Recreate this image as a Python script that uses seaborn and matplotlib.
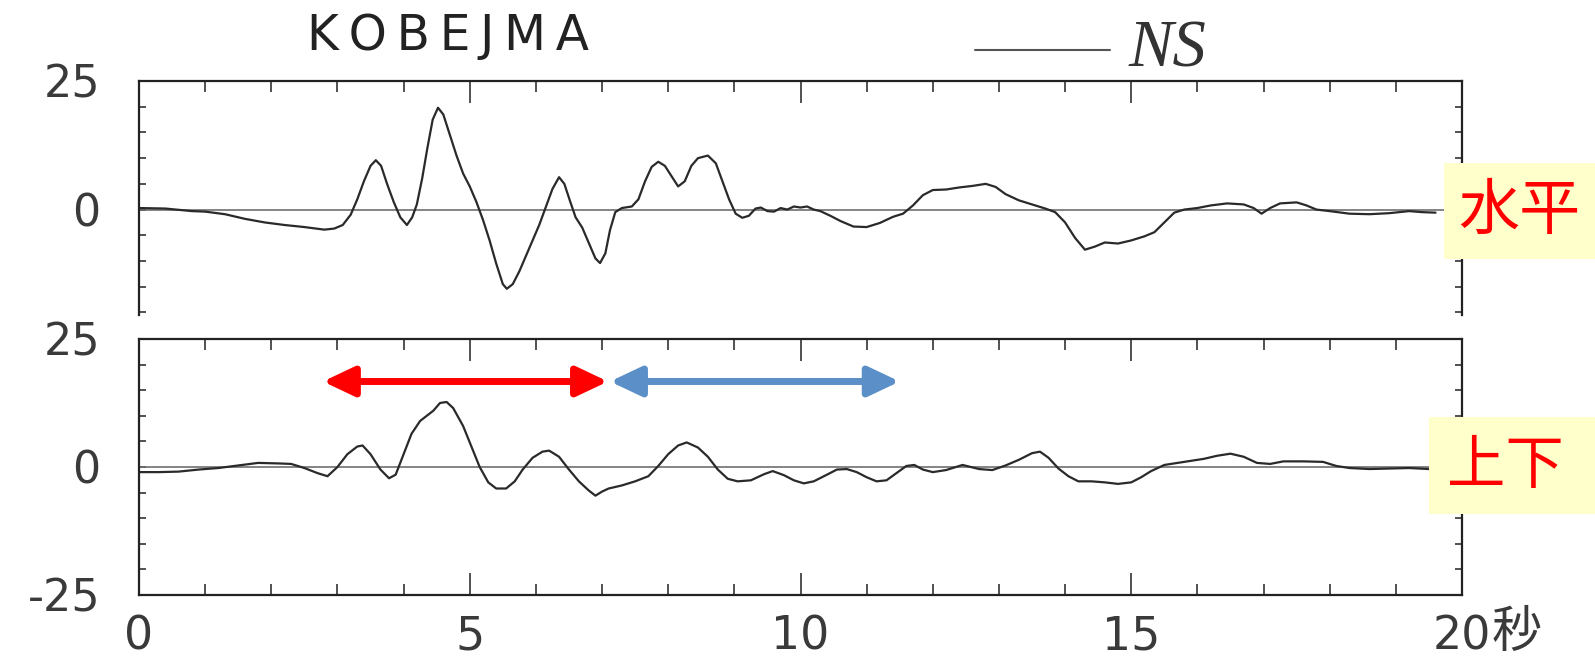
import matplotlib
matplotlib.use("Agg")
import matplotlib.pyplot as plt
from matplotlib.ticker import MultipleLocator, FixedLocator
from matplotlib.patches import Rectangle
import seaborn as sns
import pandas as pd

# ---- data ----
h_time = [0.0, 0.4, 0.8, 1.0, 1.3, 1.6, 1.9, 2.2, 2.5, 2.8, 2.95, 3.08, 3.2, 3.3, 3.4, 3.5,
          3.58, 3.66, 3.75, 3.85, 3.95, 4.05, 4.13, 4.2, 4.28, 4.36, 4.44, 4.52, 4.6, 4.7,
          4.8, 4.9, 5.0, 5.1, 5.2, 5.3, 5.4, 5.5, 5.56, 5.65, 5.75, 5.9, 6.05, 6.15, 6.25,
          6.35, 6.43, 6.52, 6.6, 6.7, 6.8, 6.9, 6.97, 7.05, 7.12, 7.2, 7.3, 7.45, 7.55, 7.65,
          7.75, 7.85, 7.95, 8.05, 8.15, 8.25, 8.35, 8.45, 8.6, 8.72, 8.82, 8.92, 9.02, 9.12,
          9.22, 9.32, 9.4, 9.5, 9.6, 9.7, 9.8, 9.9, 10.0, 10.1, 10.2, 10.3, 10.45, 10.6, 10.8,
          11.0, 11.2, 11.4, 11.55, 11.7, 11.85, 12.0, 12.2, 12.4, 12.6, 12.8, 12.95, 13.1,
          13.3, 13.5, 13.7, 13.85, 14.0, 14.15, 14.3, 14.45, 14.6, 14.8, 15.0, 15.2, 15.35,
          15.5, 15.65, 15.8, 16.0, 16.2, 16.45, 16.7, 16.85, 16.97, 17.1, 17.25, 17.5, 17.65,
          17.8, 18.0, 18.3, 18.6, 18.9, 19.2, 19.4, 19.6]
h_value = [0.3, 0.2, -0.3, -0.4, -0.9, -1.8, -2.5, -3.0, -3.4, -3.9, -3.7, -3.0, -1.0, 2.0,
           5.5, 8.5, 9.6, 8.5, 5.0, 1.5, -1.5, -3.0, -1.5, 1.0, 6.0, 12.0, 17.5, 19.8, 18.5,
           14.5, 10.5, 7.0, 4.5, 1.5, -2.0, -6.0, -10.5, -14.5, -15.4, -14.5, -12.0, -7.5,
           -3.0, 0.5, 4.0, 6.3, 5.0, 1.5, -1.5, -3.5, -6.5, -9.5, -10.4, -8.5, -4.0, -0.5,
           0.3, 0.6, 2.0, 5.5, 8.3, 9.3, 8.5, 6.5, 4.5, 5.5, 8.5, 10.0, 10.5, 9.0, 5.5, 2.0,
           -0.8, -1.6, -1.2, 0.2, 0.4, -0.3, -0.4, 0.3, 0.0, 0.6, 0.4, 0.6, 0.0, -0.3, -1.2,
           -2.2, -3.3, -3.4, -2.6, -1.4, -0.8, 0.8, 2.8, 3.8, 3.9, 4.3, 4.6, 5.0, 4.4, 3.0,
           1.8, 1.0, 0.2, -0.5, -2.5, -5.5, -7.8, -7.2, -6.4, -6.6, -6.0, -5.2, -4.4, -2.5,
           -0.6, 0.0, 0.3, 0.8, 1.2, 1.0, 0.3, -0.8, 0.3, 1.2, 1.4, 0.8, 0.0, -0.3, -0.8,
           -0.9, -0.7, -0.3, -0.5, -0.6]

v_time = [0.0, 0.3, 0.6, 0.9, 1.2, 1.5, 1.8, 2.1, 2.3, 2.5, 2.7, 2.85, 3.0, 3.15, 3.3, 3.38,
          3.5, 3.65, 3.78, 3.88, 4.0, 4.12, 4.25, 4.35, 4.45, 4.55, 4.65, 4.75, 4.9, 5.05,
          5.15, 5.28, 5.4, 5.55, 5.68, 5.8, 5.95, 6.1, 6.2, 6.35, 6.5, 6.65, 6.8, 6.9, 7.0,
          7.1, 7.3, 7.5, 7.7, 7.85, 8.0, 8.15, 8.28, 8.45, 8.6, 8.75, 8.9, 9.05, 9.25, 9.45,
          9.58, 9.75, 9.9, 10.05, 10.2, 10.4, 10.55, 10.7, 10.85, 11.0, 11.15, 11.3, 11.45,
          11.6, 11.72, 11.85, 12.0, 12.2, 12.45, 12.7, 12.9, 13.1, 13.3, 13.5, 13.62, 13.75,
          13.9, 14.05, 14.2, 14.4, 14.6, 14.8, 15.0, 15.15, 15.3, 15.5, 15.7, 15.9, 16.1, 16.3,
          16.5, 16.7, 16.9, 17.1, 17.3, 17.6, 17.9, 18.1, 18.3, 18.6, 18.9, 19.2, 19.5, 19.7]
v_value = [-1.0, -1.0, -0.9, -0.5, -0.2, 0.3, 0.8, 0.7, 0.6, -0.2, -1.2, -1.8, 0.0, 2.5, 4.0,
           4.2, 2.5, -0.5, -2.2, -1.5, 2.5, 6.5, 9.0, 10.0, 11.0, 12.5, 12.7, 11.5, 8.0, 3.2,
           0.0, -3.0, -4.2, -4.2, -2.8, -0.5, 1.8, 3.0, 3.2, 2.0, -0.5, -2.8, -4.6, -5.6, -4.8,
           -4.2, -3.6, -2.8, -1.8, 0.2, 2.5, 4.2, 4.8, 3.8, 2.0, -0.5, -2.3, -2.8, -2.6, -1.4,
           -0.8, -1.6, -2.6, -3.2, -2.8, -1.5, -0.5, -0.4, -1.0, -2.0, -2.8, -2.6, -1.2, 0.2,
           0.4, -0.5, -1.0, -0.6, 0.4, -0.4, -0.6, 0.3, 1.4, 2.7, 3.0, 1.8, -0.3, -1.8, -2.8,
           -2.8, -3.0, -3.3, -3.0, -2.0, -0.8, 0.4, 0.8, 1.2, 1.6, 2.2, 2.6, 2.0, 0.8, 0.6,
           1.1, 1.1, 1.0, 0.2, -0.2, -0.4, -0.3, -0.2, -0.4, -0.2]

x_ticks = [0, 5, 10, 15, 20]
x_tick_labels = ["0", "5", "10", "15", "20"]
top_y_labels = [0, 25]
bottom_y_labels = [-25, 0, 25]
red_span = (2.78, 7.09)
blue_span = (7.12, 11.5)
arrow_level = 16.7

# ---- style ----
sns.set_style("white")
plt.rcParams['font.family'] = ['DejaVu Sans', 'Noto Sans CJK JP']

W, H = 1595, 662
fig = plt.figure(figsize=(W / 100, H / 100), dpi=100)
L, R = 139 / W, 1462 / W
ax1 = fig.add_axes([L, 1 - 315 / H, R - L, (315 - 81) / H])
ax2 = fig.add_axes([L, 1 - 595 / H, R - L, (595 - 339) / H])

df_h = pd.DataFrame({"t": h_time, "v": h_value})
df_v = pd.DataFrame({"t": v_time, "v": v_value})

label_color = "#3a3a3a"
trace_color = "#2a2a2a"
for ax, df in ((ax1, df_h), (ax2, df_v)):
    ax.axhline(0, color="#6f6f6f", lw=1.2, zorder=1)
    sns.lineplot(data=df, x="t", y="v", ax=ax, color=trace_color, lw=1.6,
                 estimator=None, sort=True, zorder=2)
    ax.set_xlim(0, 20)
    ax.set_xlabel("")
    ax.set_ylabel("")
    ax.xaxis.set_major_locator(FixedLocator(x_ticks))
    ax.xaxis.set_minor_locator(MultipleLocator(1))
    ax.yaxis.set_minor_locator(MultipleLocator(5))
    ax.tick_params(axis="x", which="major", direction="in", length=16, width=1.2,
                   top=True, bottom=True, color="#333333")
    ax.tick_params(axis="x", which="minor", direction="in", length=8, width=1.2,
                   top=True, bottom=True, color="#333333")
    ax.tick_params(axis="y", which="both", direction="in", length=5, width=1.2,
                   left=True, right=True, color="#333333")
    ax.tick_params(axis="y", which="major", labelsize=32, pad=28, labelcolor=label_color)
    for sp in ax.spines.values():
        sp.set_color("#222222")
        sp.set_linewidth(1.6)

ax1.set_ylim(-20.5, 25)
ax1.set_yticks(top_y_labels)
ax1.set_yticklabels([str(v) for v in top_y_labels])
ax1.spines["bottom"].set_visible(False)
ax1.tick_params(axis="x", which="both", bottom=False, labelbottom=False)

ax2.set_ylim(-25, 25)
ax2.set_yticks(bottom_y_labels)
ax2.set_yticklabels([str(v) for v in bottom_y_labels])
ax2.set_xticklabels(x_tick_labels)
ax2.tick_params(axis="x", which="major", labelsize=33, pad=14, labelcolor=label_color)
fig.text(1492 / W, 1 - 633 / H, "秒", fontsize=36, color=label_color,
         family=['Noto Sans CJK JP', 'DejaVu Sans'], va="center", ha="left")

# arrows
for span, col in ((red_span, "#ff0000"), (blue_span, "#5b8fc7")):
    ax2.annotate("", xy=(span[0], arrow_level), xytext=(span[1], arrow_level),
                 arrowprops=dict(arrowstyle="<|-|>,head_length=0.95,head_width=0.45",
                                 mutation_scale=20, color=col, lw=5,
                                 shrinkA=0, shrinkB=0))

# title and legend
fig.text(307 / W, 1 - 36 / H, "K\u2009O\u2009B\u2009E\u2009J\u2009M\u2009A", fontsize=35,
         color="#222222", ha="left", va="center")
fig.add_artist(plt.Line2D([975 / W, 1110 / W], [1 - 50 / H, 1 - 50 / H],
                          color="#555555", lw=1.5))
fig.text(1128 / W, 1 - 50 / H, "NS", fontsize=48, color="#333333",
         family="Liberation Serif", style="italic", ha="left", va="center")

# labelled boxes
fig.add_artist(Rectangle((1444 / W, 1 - 259 / H), (W - 1444) / W, 96 / H,
                         transform=fig.transFigure, color="#ffffcc", lw=0))
fig.add_artist(Rectangle((1429 / W, 1 - 514 / H), (W - 1429) / W, 97 / H,
                         transform=fig.transFigure, color="#ffffcc", lw=0))
fig.text(1519 / W, 1 - 212 / H, "水平", fontsize=44, color="#ff0000",
         family=['Noto Sans CJK JP', 'DejaVu Sans'], ha="center", va="center")
fig.text(1505 / W, 1 - 466 / H, "上下", fontsize=42, color="#ff0000",
         family=['Noto Sans CJK JP', 'DejaVu Sans'], ha="center", va="center")

fig.savefig("out.png", dpi=100)
